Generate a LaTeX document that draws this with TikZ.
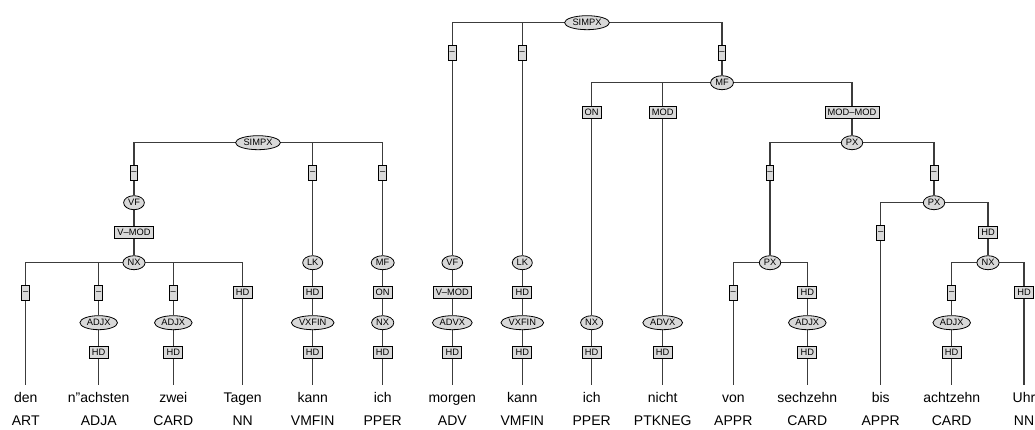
\documentclass[tikz,border=0pt]{standalone}
\usepackage{fontspec}
\setmainfont{Liberation Sans}
\usetikzlibrary{shapes.geometric,backgrounds}
\definecolor{nfill}{HTML}{D9D9D9}
\definecolor{edgec}{HTML}{3C3C3C}
\tikzset{
 catnode/.style={ellipse, draw=black, line width=0.8pt, fill=nfill, inner xsep=1.4pt, inner ysep=0.3pt, minimum height=14pt, font=\fontsize{9.3}{10}\selectfont},
 lblbox/.style={rectangle, draw=black, line width=0.8pt, fill=nfill, inner xsep=2.7pt, inner ysep=0.5pt, minimum height=12pt, font=\fontsize{9.3}{10}\selectfont},
 dashbox/.style={lblbox, inner xsep=1.3pt, minimum height=15pt},
 wordtxt/.style={anchor=base, inner xsep=0pt, inner ysep=7pt, text height=10pt, text depth=3pt, font=\fontsize{14}{16}\selectfont},
 tagtxt/.style={anchor=base, inner sep=0pt, font=\fontsize{14}{16}\selectfont},
 conn/.style={draw=edgec, line width=1.3pt},
}
\begin{document}
\begin{tikzpicture}[x=1pt,y=-1pt]
\useasboundingbox (0,0) rectangle (1035,430);
% left tree
\node[catnode] (s1) at (258,142.7) {SIMPX};
\node[dashbox] (s1a) at (134,172.7) {–};
\node[catnode] (vf1) at (134,202.7) {VF};
\node[lblbox] (vm1) at (134,232.7) {V–MOD};
\node[catnode] (nx1) at (134,262.7) {NX};
\node[dashbox] (nx1a) at (25.7,292.7) {–};
\node[dashbox] (nx1b) at (98.7,292.7) {–};
\node[catnode] (aj1) at (98.7,322.7) {ADJX};
\node[lblbox] (aj1h) at (98.7,352.7) {HD};
\node[dashbox] (nx1c) at (173.3,292.7) {–};
\node[catnode] (aj2) at (173.3,322.7) {ADJX};
\node[lblbox] (aj2h) at (173.3,352.7) {HD};
\node[lblbox] (nx1d) at (242.7,292.7) {HD};
\node[dashbox] (s1b) at (312.7,172.7) {–};
\node[catnode] (lk1) at (312.7,262.7) {LK};
\node[lblbox] (lk1h) at (312.7,292.7) {HD};
\node[catnode] (vx1) at (312.7,322.7) {VXFIN};
\node[lblbox] (vx1h) at (312.7,352.7) {HD};
\node[dashbox] (s1c) at (382.7,172.7) {–};
\node[catnode] (mf1) at (382.7,262.7) {MF};
\node[lblbox] (on1) at (382.7,292.7) {ON};
\node[catnode] (nx2) at (382.7,322.7) {NX};
\node[lblbox] (nx2h) at (382.7,352.7) {HD};
% right tree
\node[catnode] (s2) at (587,22.7) {SIMPX};
\node[dashbox] (s2a) at (452.3,52.7) {–};
\node[catnode] (vf2) at (452.3,262.7) {VF};
\node[lblbox] (vm2) at (452.3,292.7) {V–MOD};
\node[catnode] (av1) at (452.3,322.7) {ADVX};
\node[lblbox] (av1h) at (452.3,352.7) {HD};
\node[dashbox] (s2b) at (522.3,52.7) {–};
\node[catnode] (lk2) at (522.3,262.7) {LK};
\node[lblbox] (lk2h) at (522.3,292.7) {HD};
\node[catnode] (vx2) at (522.3,322.7) {VXFIN};
\node[lblbox] (vx2h) at (522.3,352.7) {HD};
\node[dashbox] (s2c) at (722,52.7) {–};
\node[catnode] (mf2) at (722,82.7) {MF};
\node[lblbox] (on2) at (591.7,112.7) {ON};
\node[catnode] (nx3) at (591.7,322.7) {NX};
\node[lblbox] (nx3h) at (591.7,352.7) {HD};
\node[lblbox] (mod) at (662.7,112.7) {MOD};
\node[catnode] (av2) at (662.7,322.7) {ADVX};
\node[lblbox] (av2h) at (662.7,352.7) {HD};
\node[lblbox] (mm) at (852,112.7) {MOD–MOD};
\node[catnode] (px1) at (852,142.7) {PX};
\node[dashbox] (px1a) at (770,172.7) {–};
\node[catnode] (px2) at (770,262.7) {PX};
\node[dashbox] (px2a) at (733.3,292.7) {–};
\node[lblbox] (px2b) at (807.3,292.7) {HD};
\node[catnode] (aj3) at (807.3,322.7) {ADJX};
\node[lblbox] (aj3h) at (807.3,352.7) {HD};
\node[dashbox] (px1b) at (934,172.7) {–};
\node[catnode] (px3) at (934,202.7) {PX};
\node[dashbox] (px3a) at (880.7,232.7) {–};
\node[lblbox] (px3b) at (988,232.7) {HD};
\node[catnode] (nx4) at (988,262.7) {NX};
\node[dashbox] (nx4a) at (951.7,292.7) {–};
\node[catnode] (aj4) at (951.7,322.7) {ADJX};
\node[lblbox] (aj4h) at (951.7,352.7) {HD};
\node[lblbox] (nx4b) at (1024,292.7) {HD};
% words and tags
\foreach \n/\x/\w/\p in {1/25.7/den/ART, 2/98.7/n"achsten/ADJA, 3/173.3/zwei/CARD, 4/242.7/Tagen/NN, 5/312.7/kann/VMFIN, 6/382.7/ich/PPER, 7/452.3/morgen/ADV, 8/522.3/kann/VMFIN, 9/591.7/ich/PPER, 10/662.7/nicht/PTKNEG, 11/733.3/von/APPR, 12/807.3/sechzehn/CARD, 13/880.7/bis/APPR, 14/951.7/achtzehn/CARD, 15/1024/Uhr/NN}{
  \node[wordtxt] (w\n) at (\x,402) {\w};
  \node[tagtxt] (p\n) at (\x,425) {\p};
}
\begin{scope}[on background layer]
\foreach \a/\b in {s1/s1a, s1a/vf1, vf1/vm1, vm1/nx1, nx1/nx1a, nx1a/w1, nx1/nx1b, nx1b/aj1, aj1/aj1h, aj1h/w2, nx1/nx1c, nx1c/aj2, aj2/aj2h, aj2h/w3, nx1/nx1d, nx1d/w4, s1/s1b, s1b/lk1, lk1/lk1h, lk1h/vx1, vx1/vx1h, vx1h/w5, s1/s1c, s1c/mf1, mf1/on1, on1/nx2, nx2/nx2h, nx2h/w6,
 s2/s2a, s2a/vf2, vf2/vm2, vm2/av1, av1/av1h, av1h/w7, s2/s2b, s2b/lk2, lk2/lk2h, lk2h/vx2, vx2/vx2h, vx2h/w8, s2/s2c, s2c/mf2, mf2/on2, on2/nx3, nx3/nx3h, nx3h/w9, mf2/mod, mod/av2, av2/av2h, av2h/w10, mf2/mm, mm/px1, px1/px1a, px1a/px2, px2/px2a, px2a/w11, px2/px2b, px2b/aj3, aj3/aj3h, aj3h/w12, px1/px1b, px1b/px3, px3/px3a, px3a/w13, px3/px3b, px3b/nx4, nx4/nx4a, nx4a/aj4, aj4/aj4h, aj4h/w14, nx4/nx4b, nx4b/w15}
  \draw[conn] (\a.center) -| (\b.north);
\end{scope}
\end{tikzpicture}
\end{document}
